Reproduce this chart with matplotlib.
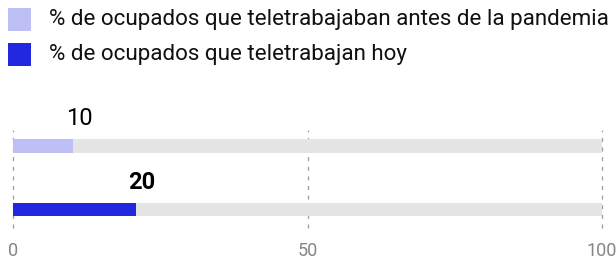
import matplotlib
matplotlib.use("Agg")
import matplotlib.pyplot as plt
from matplotlib.patches import Rectangle
from matplotlib.transforms import offset_copy

plt.rcParams["font.family"] = ["Roboto", "DejaVu Sans"]

# datos
series = ["% de ocupados que teletrabajaban antes de la pandemia",
          "% de ocupados que teletrabajan hoy"]
valores = [10.2, 20.9]
etiquetas = ["10", "20"]
pesos = ["normal", "bold"]
colores = ["#bdbff5", "#2228e0"]
maximo = 100
ticks = [0, 50, 100]

fig = plt.figure(figsize=(6.16, 2.58), dpi=100)

# leyenda manual
for i, (nombre, color) in enumerate(zip(series, colores)):
    y_top = 8.3 + i * 35
    fig.patches.append(Rectangle((8 / 616, 1 - (y_top + 22.4) / 258), 23 / 616, 22.4 / 258,
                                 transform=fig.transFigure, color=color, lw=0))
    fig.text(49 / 616, 1 - (y_top + 11.5) / 258, nombre, fontsize=16.1,
             va="center", ha="left", color="#111111")

# barras
ax = fig.add_axes([13 / 616, 1 - 228 / 258, 589 / 616, 98 / 258])
y = list(range(len(valores)))
ax.barh(y, [maximo] * len(valores), height=0.21, color="#e5e5e5", left=0)
ax.barh(y, valores, height=0.21, color=colores)
ax.set_xlim(0, maximo)
ax.set_ylim(1.29, -0.25)

for t in ticks:
    ax.axvline(t, color="#9a9a9a", lw=0.9, ls=(0, (3.2, 4.5)), zorder=0, clip_on=False)

for yi, v, lab, w in zip(y, valores, etiquetas, pesos):
    tr = offset_copy(ax.transData, fig=fig, x=6, y=14, units="dots")
    ax.text(v, yi - 0.105, lab, transform=tr, ha="center", va="baseline",
            fontsize=17, fontweight=w, color="#000000")

for t in ticks:
    ax.text(t, -0.285, str(t), transform=ax.get_xaxis_transform(), ha="center", va="baseline",
            fontsize=13, color="#858585")

ax.axis("off")

fig.savefig("out.png", dpi=100)
